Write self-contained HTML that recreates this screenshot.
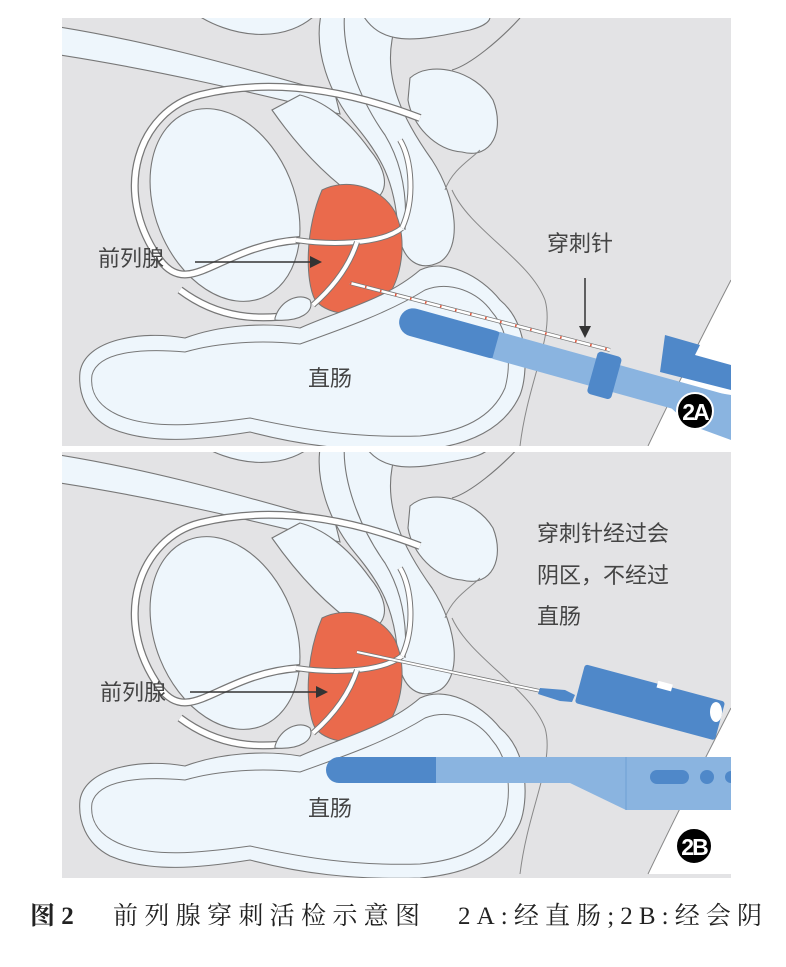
<!DOCTYPE html>
<html><head><meta charset="utf-8"><style>
html,body{margin:0;padding:0;background:#fff;}
body{width:786px;height:962px;overflow:hidden;}
</style></head><body>
<svg width="786" height="962" viewBox="0 0 786 962" xmlns="http://www.w3.org/2000/svg">
<defs>
<clipPath id="c1"><rect x="62" y="18" width="669" height="428"/></clipPath>
<clipPath id="c2"><rect x="62" y="452" width="669" height="426"/></clipPath>
<g id="anat">
  <rect x="0" y="-20" width="800" height="500" fill="#e3e3e5"/>
  <path d="M731,280 C700,340 670,400 648,446 L731,446 Z" fill="#fff"/>
  <path d="M731,280 C700,340 670,400 648,446" fill="none" stroke="#888" stroke-width="1"/>
  <path d="M40,24 C150,40 250,70 335,94 L340,114 C250,92 150,68 40,52 Z" fill="#eef6fc" stroke="#777" stroke-width="1.1"/>
  <path d="M190,10 C230,40 290,45 320,10 Z" fill="#eef6fc" stroke="#777" stroke-width="1.1"/>
  <path d="M322,10 C312,50 330,95 355,125 C380,155 395,180 398,230 C402,262 420,272 440,262 C462,248 458,200 432,160 C402,118 385,80 392,40 L398,10 Z" fill="#eef6fc" stroke="#777" stroke-width="1.1"/>
  <path d="M345,10 C340,50 360,100 385,135 C400,160 408,190 405,230" fill="none" stroke="#777" stroke-width="1.1"/>
  <path d="M360,10 C380,50 420,40 470,30 C500,22 490,10 480,10" fill="#eef6fc" stroke="#777" stroke-width="1.1"/>
  <path d="M300,120 C330,160 350,175 375,185" fill="none" stroke="#777" stroke-width="1.1"/>
  <path d="M272,110 C300,150 330,180 360,200 C385,205 395,180 370,150 C345,115 320,100 300,95 Z" fill="#eef6fc" stroke="#777" stroke-width="1.1"/>
  <path d="M410,78 C430,60 475,70 493,100 C505,130 492,160 462,152 C435,150 412,125 408,100 Z" fill="#eef6fc" stroke="#777" stroke-width="1.1"/>
  <path d="M452,70 C470,65 500,40 520,18" fill="none" stroke="#777" stroke-width="1.1"/>
  <path d="M452,190 C470,230 530,260 545,300 C555,335 528,380 520,446" fill="none" stroke="#888" stroke-width="1"/>
  <path d="M445,190 C452,170 470,160 480,150" fill="none" stroke="#888" stroke-width="1"/>
  <ellipse cx="225" cy="205" rx="70" ry="100" transform="rotate(-22 225 205)" fill="#eef6fc" stroke="#777" stroke-width="1.1"/>
  <path d="M300,240 C220,245 190,300 160,260 C110,190 140,110 200,95 C280,75 360,95 420,118" fill="none" stroke="#777" stroke-width="8"/>
  <path d="M300,240 C220,245 190,300 160,260 C110,190 140,110 200,95 C280,75 360,95 420,118" fill="none" stroke="#fff" stroke-width="5.5"/>
  <path d="M180,290 C220,320 260,320 295,315" fill="none" stroke="#777" stroke-width="8"/>
  <path d="M180,290 C220,320 260,320 295,315" fill="none" stroke="#fff" stroke-width="5.5"/>
  <path d="M275,318 C280,300 300,292 310,300 C315,312 300,322 275,320 Z" fill="#eef6fc" stroke="#777" stroke-width="1.1"/>
  <path d="M322,190 C345,178 380,185 395,212 C408,240 402,280 385,300 C365,318 330,318 315,300 C305,280 305,230 322,190 Z" fill="#ea6a4c" stroke="#777" stroke-width="1"/>
  <path d="M296,240 C330,245 380,245 402,228" fill="none" stroke="#777" stroke-width="6"/>
  <path d="M296,240 C330,245 380,245 402,228" fill="none" stroke="#fff" stroke-width="4"/>
  <path d="M357,242 C348,270 330,290 313,305" fill="none" stroke="#777" stroke-width="6"/>
  <path d="M357,242 C348,270 330,290 313,305" fill="none" stroke="#fff" stroke-width="4"/>
  <path d="M402,228 C415,200 412,160 400,140" fill="none" stroke="#777" stroke-width="6"/>
  <path d="M402,228 C415,200 412,160 400,140" fill="none" stroke="#fff" stroke-width="4"/>
  <path d="M80,372 C85,340 140,330 185,338 C220,325 265,322 300,328 C340,310 385,300 420,270 C445,258 480,275 500,300 C530,325 528,375 520,395 C505,428 470,446 420,450 C350,452 300,445 250,432 C200,440 150,445 110,428 C85,415 78,392 80,372 Z" fill="#eef6fc" stroke="#777" stroke-width="1.1"/>
  <path d="M92,375 C98,352 140,348 185,352 C220,342 262,340 300,344 C345,328 390,312 425,290 C450,280 478,292 492,312 C512,335 510,370 505,388 C492,418 462,432 420,436 C355,438 305,430 250,418 C200,425 152,430 118,415 C96,405 90,390 92,375 Z" fill="#eef6fc" stroke="#777" stroke-width="1"/>
</g>
</defs>

<g clip-path="url(#c1)">
  <use href="#anat"/>
  <line x1="350" y1="283" x2="610" y2="350" stroke="#777" stroke-width="4"/>
  <line x1="350" y1="283" x2="610" y2="350" stroke="#fff" stroke-width="2.5"/>
  <line x1="350" y1="283" x2="610" y2="350" stroke="#e2553a" stroke-width="2.5" stroke-dasharray="1.5 14"/>
  <g transform="rotate(15.5 405 318)">
    <rect x="400" y="306" width="110" height="28" rx="14" fill="#4f88c9"/>
    <rect x="500" y="306" width="300" height="28" fill="#8ab4e0"/>
    <rect x="600" y="298" width="25" height="44" rx="4" fill="#4f88c9"/>
  </g>
  <path d="M665,335 L700,345 L695,355 L731,365 L731,390 L660,372 Z" fill="#4f88c9"/>
  <path d="M640,380 L731,395 L731,440 L690,425 Z" fill="#8ab4e0"/>
  <circle cx="695" cy="411" r="18" fill="#000" stroke="#fff" stroke-width="2"/>
  <text x="695" y="420" text-anchor="middle" font-family="Liberation Sans, sans-serif" font-size="23" font-weight="bold" fill="#fff" letter-spacing="-2">2A</text>
</g>
<text x="98" y="266" font-family="Liberation Sans, Noto Sans CJK SC, sans-serif" font-size="22" fill="#444">前列腺</text>
<line x1="195" y1="262" x2="312" y2="262" stroke="#333" stroke-width="1.5"/>
<path d="M322,262 L310,256 L310,268 Z" fill="#333"/>
<text x="547" y="251" font-family="Liberation Sans, Noto Sans CJK SC, sans-serif" font-size="22" fill="#444">穿刺针</text>
<line x1="585" y1="278" x2="585" y2="328" stroke="#333" stroke-width="1.5"/>
<path d="M585,338 L579,326 L591,326 Z" fill="#333"/>
<text x="308" y="386" font-family="Liberation Sans, Noto Sans CJK SC, sans-serif" font-size="22" fill="#444">直肠</text>

<g clip-path="url(#c2)">
  <use href="#anat" transform="translate(0,428)"/>
  <line x1="357" y1="652" x2="545" y2="692" stroke="#777" stroke-width="3.5"/>
  <line x1="357" y1="652" x2="545" y2="692" stroke="#fff" stroke-width="2"/>
  <path d="M540,688 L565,690 L575,695 L572,702 L560,701 L538,694 Z" fill="#4f88c9"/>
  <g transform="rotate(15 588 665)">
    <rect x="585" y="665" width="145" height="40" rx="3" fill="#4f88c9"/>
    <rect x="660" y="662" width="15" height="7" fill="#fff"/>
  </g>
  <ellipse cx="716" cy="712" rx="6" ry="10" fill="#fff"/>
  <rect x="326" y="757" width="110" height="26" rx="13" fill="#4f88c9"/>
  <rect x="422" y="757" width="14" height="26" fill="#4f88c9"/>
  <rect x="436" y="757" width="300" height="26" fill="#8ab4e0"/>
  <path d="M570,783 L626,810 L731,810 L731,783 Z" fill="#8ab4e0"/>
  <line x1="626" y1="757" x2="626" y2="810" stroke="#6f9fd3" stroke-width="1"/>
  <rect x="650" y="770" width="39" height="14" rx="7" fill="#4f88c9"/>
  <circle cx="707" cy="777" r="7" fill="#4f88c9"/>
  <circle cx="731" cy="777" r="6" fill="#4f88c9"/>
  <circle cx="694" cy="846" r="18" fill="#000" stroke="#fff" stroke-width="2"/>
  <text x="694" y="855" text-anchor="middle" font-family="Liberation Sans, sans-serif" font-size="23" font-weight="bold" fill="#fff" letter-spacing="-2">2B</text>
</g>
<text x="537" y="541" font-family="Liberation Sans, Noto Sans CJK SC, sans-serif" font-size="22" fill="#444">穿刺针经过会</text>
<text x="537" y="583" font-family="Liberation Sans, Noto Sans CJK SC, sans-serif" font-size="22" fill="#444">阴区，不经过</text>
<text x="537" y="624" font-family="Liberation Sans, Noto Sans CJK SC, sans-serif" font-size="22" fill="#444">直肠</text>
<text x="100" y="700" font-family="Liberation Sans, Noto Sans CJK SC, sans-serif" font-size="22" fill="#444">前列腺</text>
<line x1="190" y1="692" x2="318" y2="692" stroke="#333" stroke-width="1.5"/>
<path d="M328,692 L316,686 L316,698 Z" fill="#333"/>
<text x="308" y="816" font-family="Liberation Sans, Noto Sans CJK SC, sans-serif" font-size="22" fill="#444">直肠</text>

<text x="30" y="924" font-family="Liberation Serif, Noto Serif CJK SC, serif" font-size="25" font-weight="bold" fill="#222">图 2</text>
<text x="113" y="924" font-family="Liberation Serif, Noto Serif CJK SC, serif" font-size="25" fill="#222" textLength="307" lengthAdjust="spacing">前列腺穿刺活检示意图</text>
<text x="458" y="924" font-family="Liberation Serif, Noto Serif CJK SC, serif" font-size="25" fill="#222" textLength="304" lengthAdjust="spacing">2A:经直肠;2B:经会阴</text>
</svg>
</body></html>
